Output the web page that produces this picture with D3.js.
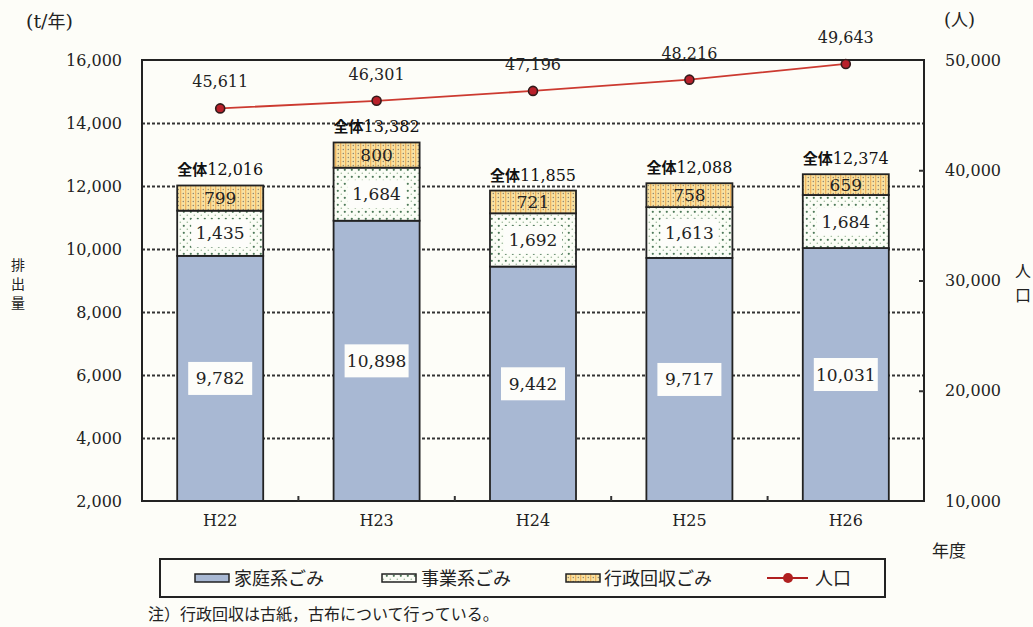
<!DOCTYPE html>
<html><head><meta charset="utf-8">
<script src="https://cdn.jsdelivr.net/npm/d3@7"></script>
<style>
html,body{margin:0;padding:0;background:#fdfdf8;}
svg{display:block;}
.num{font-family:"DejaVu Serif","Liberation Serif",serif;}
.jp{font-family:"Noto Sans CJK JP","Noto Sans",sans-serif;}
</style></head>
<body>
<svg id="chart" width="1033" height="627"></svg>
<script>
const categories = ["H22","H23","H24","H25","H26"];
const household = [9782, 10898, 9442, 9717, 10031];
const business = [1435, 1684, 1692, 1613, 1684];
const administrative = [799, 800, 721, 758, 659];
const totals = [12016, 13382, 11855, 12088, 12374];
const population = [45611, 46301, 47196, 48216, 49643];
const leftTicks = [2000, 4000, 6000, 8000, 10000, 12000, 14000, 16000];
const rightTicks = [10000, 20000, 30000, 40000, 50000];
const seriesNames = ["家庭系ごみ", "事業系ごみ", "行政回収ごみ", "人口"];

const svg = d3.select("#chart");
const W = 1033, H = 627;
const m = {left:142, right:924, top:60, bottom:501};
svg.append("rect").attr("width",W).attr("height",H).attr("fill","#fdfdf8");

const x = d3.scaleBand().domain(categories).range([m.left, m.right]).paddingInner(0.45).paddingOuter(0.225);
const yL = d3.scaleLinear().domain([2000,16000]).range([m.bottom, m.top]);
const yR = d3.scaleLinear().domain([10000,50000]).range([m.bottom, m.top]);
const fmt = d3.format(",");

// patterns
const defs = svg.append("defs");
const pb = defs.append("pattern").attr("id","pBiz").attr("patternUnits","userSpaceOnUse").attr("width",7).attr("height",7);
pb.append("rect").attr("width",7).attr("height",7).attr("fill","#fbfdf6");
pb.append("circle").attr("cx",1.8).attr("cy",1.8).attr("r",1.1).attr("fill","#4f7a5a");
pb.append("circle").attr("cx",5.3).attr("cy",5.3).attr("r",0.8).attr("fill","#9bb89a");
const pa = defs.append("pattern").attr("id","pAdm").attr("patternUnits","userSpaceOnUse").attr("width",5).attr("height",4);
pa.append("rect").attr("width",5).attr("height",4).attr("fill","#f8e2a2");
pa.append("rect").attr("x",0).attr("y",0).attr("width",1.3).attr("height",4).attr("fill","#f0b560");
pa.append("circle").attr("cx",3.3).attr("cy",1.5).attr("r",0.7).attr("fill","#8a8070");

// gridlines
const gridVals = [4000,6000,8000,10000,12000,14000];
svg.append("g").attr("transform",`translate(${m.left},0)`)
  .call(d3.axisLeft(yL).tickValues(gridVals).tickSize(-(m.right-m.left)).tickFormat(""))
  .call(g=>g.select(".domain").remove())
  .call(g=>g.selectAll("line").attr("stroke","#333").attr("stroke-width",2).attr("stroke-dasharray","3,2"));

// bars
const stacks = categories.map((c,i)=>({c, i, segs:[
  {k:"h", y0:2000, y1:household[i], v:household[i]},
  {k:"b", y0:household[i], y1:household[i]+business[i], v:business[i]},
  {k:"a", y0:household[i]+business[i], y1:household[i]+business[i]+administrative[i], v:administrative[i]}
]}));
const fills = {h:"#a8b8d3", b:"url(#pBiz)", a:"url(#pAdm)"};
const bars = svg.append("g");
stacks.forEach(s=>{
  s.segs.forEach(seg=>{
    bars.append("rect")
      .attr("x", x(s.c)).attr("width", x.bandwidth())
      .attr("y", yL(seg.y1)).attr("height", yL(seg.y0)-yL(seg.y1))
      .attr("fill", fills[seg.k]).attr("stroke","#222").attr("stroke-width",1.8);
  });
});

// segment labels
const lbl = svg.append("g");
stacks.forEach(s=>{
  const cx = x(s.c)+x.bandwidth()/2;
  s.segs.forEach(seg=>{
    const cy = (yL(seg.y0)+yL(seg.y1))/2;
    const txt = fmt(seg.v);
    if(seg.k!=="a"){
      const bw = seg.k==="h" ? 64 : 58, bh = seg.k==="h" ? 33 : 28;
      lbl.append("rect").attr("x",cx-bw/2).attr("y",cy-bh/2).attr("width",bw).attr("height",bh).attr("fill","#fdfdfa");
    }
    lbl.append("text").attr("class","num").attr("x",cx).attr("y",cy+6)
      .attr("text-anchor","middle").attr("font-size", 17).attr("fill","#222").text(txt);
  });
  // total
  const t = lbl.append("text").attr("x",cx).attr("y",yL(totals[s.i])-10).attr("text-anchor","middle").attr("fill","#111");
  t.append("tspan").attr("class","jp").attr("font-size",15).attr("font-weight","bold").text("全体");
  t.append("tspan").attr("class","num").attr("font-size",16).text(fmt(totals[s.i]));
});

// frame
svg.append("rect").attr("x",m.left).attr("y",m.top).attr("width",m.right-m.left).attr("height",m.bottom-m.top)
  .attr("fill","none").attr("stroke","#222").attr("stroke-width",2);

// left axis
svg.append("g").attr("transform",`translate(${m.left-17},0)`)
  .call(d3.axisLeft(yL).tickValues(leftTicks).tickSize(0).tickFormat(fmt))
  .call(g=>g.select(".domain").remove())
  .call(g=>g.selectAll("text").attr("class","num").attr("font-size",16).attr("fill","#222"));
// right axis
svg.append("g").attr("transform",`translate(${m.right+18},0)`)
  .call(d3.axisRight(yR).tickValues(rightTicks).tickSize(0).tickFormat(fmt))
  .call(g=>g.select(".domain").remove())
  .call(g=>g.selectAll("text").attr("class","num").attr("font-size",16).attr("fill","#222"));
// right inner ticks
svg.append("g").attr("transform",`translate(${m.right},0)`)
  .call(d3.axisLeft(yR).tickValues([20000,30000,40000]).tickSize(5).tickFormat(""))
  .call(g=>g.select(".domain").remove())
  .call(g=>g.selectAll("line").attr("stroke","#333").attr("stroke-width",2));
// bottom axis
svg.append("g").attr("transform",`translate(0,${m.bottom})`)
  .call(d3.axisBottom(x).tickSize(0).tickPadding(14))
  .call(g=>g.select(".domain").remove())
  .call(g=>g.selectAll("text").attr("class","num").attr("font-size",16).attr("fill","#222"));
// boundary ticks
const bounds = categories.slice(1).map(c=>x(c)-x.step()*x.paddingInner()/2);
svg.append("g").selectAll("line").data(bounds).join("line")
  .attr("x1",d=>d).attr("x2",d=>d).attr("y1",m.bottom).attr("y2",m.bottom-5)
  .attr("stroke","#333").attr("stroke-width",2);

// population line
const cxs = categories.map(c=>x(c)+x.bandwidth()/2);
const line = d3.line().x((d,i)=>cxs[i]).y(d=>yR(d));
svg.append("path").datum(population).attr("d",line).attr("fill","none").attr("stroke","#cc3a30").attr("stroke-width",1.8);
svg.append("g").selectAll("circle").data(population).join("circle")
  .attr("cx",(d,i)=>cxs[i]).attr("cy",d=>yR(d)).attr("r",4.5)
  .attr("fill","#b8202a").attr("stroke","#331a1a").attr("stroke-width",1.6);
svg.append("g").selectAll("text").data(population).join("text")
  .attr("class","num").attr("x",(d,i)=>cxs[i]).attr("y",d=>yR(d)-21)
  .attr("text-anchor","middle").attr("font-size",16).attr("fill","#222").text(d=>fmt(d));

// axis titles
const tl = svg.append("text").attr("x",26).attr("y",28).attr("fill","#222");
tl.append("tspan").attr("class","num").attr("font-size",19).text("(t/");
tl.append("tspan").attr("class","jp").attr("font-size",18).text("年");
tl.append("tspan").attr("class","num").attr("font-size",19).text(")");
const tr = svg.append("text").attr("x",944).attr("y",26).attr("fill","#222");
tr.append("tspan").attr("class","num").attr("font-size",18).text("(");
tr.append("tspan").attr("class","jp").attr("font-size",17).text("人");
tr.append("tspan").attr("class","num").attr("font-size",18).text(")");
["排","出","量"].forEach((ch,i)=>svg.append("text").attr("class","jp").attr("x",18).attr("y",270+i*19).attr("text-anchor","middle").attr("font-size",14).attr("fill","#222").text(ch));
["人","口"].forEach((ch,i)=>svg.append("text").attr("class","jp").attr("x",1023).attr("y",277+i*24).attr("text-anchor","middle").attr("font-size",16).attr("fill","#222").text(ch));
svg.append("text").attr("class","jp").attr("x",932).attr("y",557).attr("font-size",17).attr("fill","#222").text("年度");

// legend
const lg = svg.append("g");
lg.append("rect").attr("x",160).attr("y",559).attr("width",725).attr("height",38).attr("fill","#fdfdf8").attr("stroke","#222").attr("stroke-width",2);
const ly = 578;
const legendSw = [
  {x:195, fill:fills.h, name:seriesNames[0], tx:234},
  {x:382, fill:"url(#pBiz)", name:seriesNames[1], tx:421},
  {x:566, fill:"url(#pAdm)", name:seriesNames[2], tx:604}
];
legendSw.forEach(d=>{
  lg.append("rect").attr("x",d.x).attr("y",ly-4).attr("width",34).attr("height",8).attr("fill",d.fill).attr("stroke","#222").attr("stroke-width",1.5);
  lg.append("text").attr("class","jp").attr("x",d.tx).attr("y",ly+7).attr("font-size",18).attr("fill","#222").text(d.name);
});
lg.append("line").attr("x1",767).attr("x2",808).attr("y1",ly).attr("y2",ly).attr("stroke","#b02020").attr("stroke-width",2.2);
lg.append("circle").attr("cx",788).attr("cy",ly).attr("r",5).attr("fill","#b02020");
lg.append("text").attr("class","jp").attr("x",815).attr("y",ly+7).attr("font-size",18).attr("fill","#222").text(seriesNames[3]);

// note
svg.append("text").attr("class","jp").attr("x",148).attr("y",620).attr("font-size",16).attr("fill","#222").text("注）行政回収は古紙，古布について行っている。");
</script>
</body></html>
